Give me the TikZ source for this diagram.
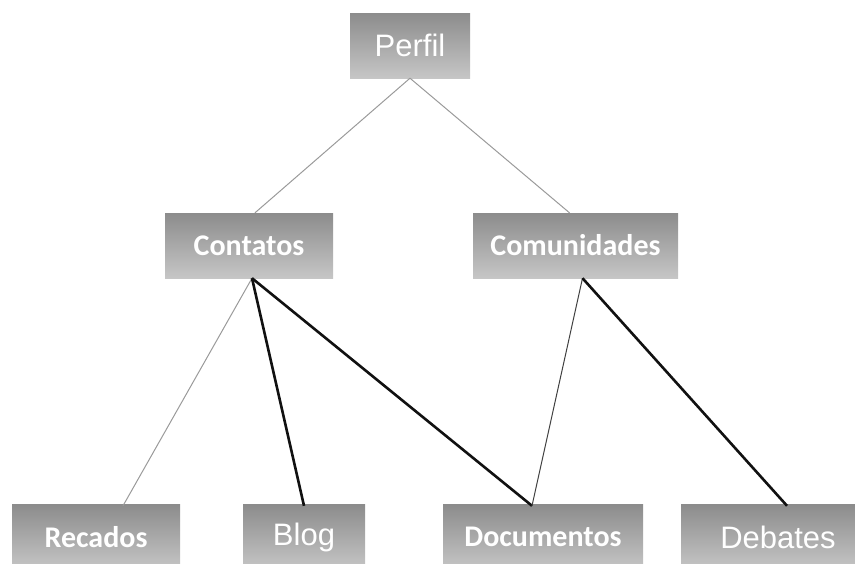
\documentclass[tikz,border=0pt]{standalone}
\usepackage{fontspec}
\usepackage{tikz}
\setmainfont{Liberation Sans}
\newfontfamily\carlito{Carlito}
\definecolor{BoxTop}{HTML}{8C8C8C}
\definecolor{BoxBottom}{HTML}{C6C6C6}
\definecolor{ThinGray}{HTML}{9A9A9A}
\definecolor{ThickBlack}{HTML}{111111}

\begin{document}
\begin{tikzpicture}[x=1pt, y=1pt, every node/.style={text=white}]
  \tikzstyle{box}=[rectangle, top color=BoxTop, bottom color=BoxBottom, draw=none,
  minimum height=65pt, inner sep=0pt, align=center]
  \tikzstyle{arialtext}=[font=\fontsize{31}{34}\selectfont]
  \tikzstyle{calibritext}=[font=\carlito\bfseries\fontsize{30}{34}\selectfont]
  \tikzstyle{thin}=[line width=1pt, color=ThinGray]
  \tikzstyle{thick}=[line width=2.6pt, color=ThickBlack]
  \useasboundingbox (0,0) rectangle (855,-563);
  \clip (0,0) rectangle (855,-563);
  \node[box, arialtext, minimum width=120pt] (perfil) at (410,-45.5) {Perfil};
  \node[box, calibritext, minimum width=168pt] (contatos) at (249,-245.5) {Contatos};
  \node[box, calibritext, minimum width=205pt] (comunidades) at (575.5,-245.5) {Comunidades};
  \node[box, calibritext, minimum width=168pt] (recados) at (96,-537) {Recados};
  \node[box, arialtext, minimum width=122pt] (blog) at (304,-537) {Blog};
  \node[box, calibritext, minimum width=200pt] (documentos) at (543,-537) {Documentos};
  \node[box, arialtext, minimum width=174pt] (debates) at (768,-537) {\hspace*{20pt}Debates};
  \draw[thin] (perfil.south) -- ([xshift=6pt]contatos.north);
  \draw[thin] (perfil.south) -- ([xshift=-6pt]comunidades.north);
  \draw[thin] ([xshift=3pt]contatos.south) -- ([xshift=27pt, yshift=-1.5pt]recados.north);
  \draw[thick] ([xshift=3pt]contatos.south) -- ([yshift=-1.5pt]blog.north);
  \draw[thick] ([xshift=3pt]contatos.south) -- ([xshift=-11pt, yshift=-1.5pt]documentos.north);
  \draw[thin, color=black!75] ([xshift=7pt]comunidades.south) -- ([xshift=-11pt, yshift=-1.5pt]documentos.north);
  \draw[thick] ([xshift=7pt]comunidades.south) -- ([xshift=19pt, yshift=-1.5pt]debates.north);
\end{tikzpicture}
\end{document}
